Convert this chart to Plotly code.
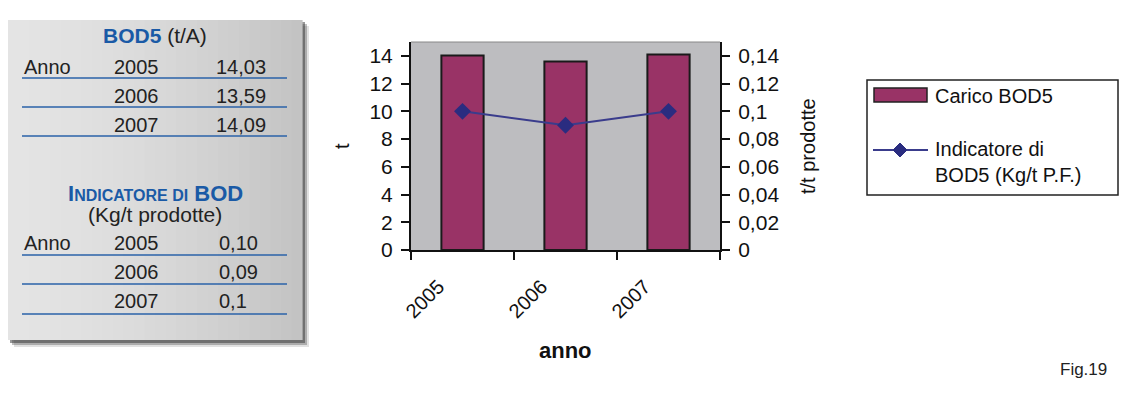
import plotly.graph_objects as go

W, H = 1126, 397

years = ["2005", "2006", "2007"]
carico_bod5 = [14.03, 13.59, 14.09]
indicatore = [0.10, 0.09, 0.10]
table_bod_labels = ["14,03", "13,59", "14,09"]
table_ind_labels = ["0,10", "0,09", "0,1"]
left_ticks = [0, 2, 4, 6, 8, 10, 12, 14]
right_ticks = [0, 0.02, 0.04, 0.06, 0.08, 0.10, 0.12, 0.14]
right_ticktext = ["0", "0,02", "0,04", "0,06", "0,08", "0,1", "0,12", "0,14"]
legend_names = ["Carico BOD5", "Indicatore di<br>BOD5 (Kg/t P.F.)"]

FONT = "Liberation Sans, Arial, sans-serif"
BLUE = "#1a5aa6"
BAR_COLOR = "#993366"
LINE_COLOR = "#3a3c8c"
MARKER_COLOR = "#2a2c80"


def px(x):
    return x / W


def py(y):
    return 1 - y / H


fig = go.Figure()
fig.add_trace(go.Bar(
    x=years, y=carico_bod5, name=legend_names[0],
    marker=dict(color=BAR_COLOR, line=dict(color="#1a1a1a", width=2)),
    width=0.41, yaxis="y", showlegend=False,
))
fig.add_trace(go.Scatter(
    x=years, y=indicatore, name=legend_names[1],
    mode="lines+markers", yaxis="y2", showlegend=False,
    line=dict(color=LINE_COLOR, width=2),
    marker=dict(symbol="diamond", size=13, color=MARKER_COLOR),
))

shapes = []
annotations = []
TXT = "#222"

# Left panel with shadow
for i, op in enumerate([0.15, 0.3, 0.5]):
    d = 6 - 2 * i
    shapes.append(dict(type="rect", xref="paper", yref="paper",
                       x0=px(8 + d), x1=px(303 + d), y0=py(341 + d), y1=py(20 + d),
                       fillcolor="#333333", opacity=op, line=dict(width=0), layer="below"))
# horizontal gradient panel (light left, darker right)
N = 28
x_left, x_right = 8, 302
for k in range(N):
    xa = x_left + (x_right - x_left) * k / N
    xb = x_left + (x_right - x_left) * (k + 1) / N
    t = (k + 0.5) / N
    v = int(round(228 - 34 * t ** 1.6))
    shapes.append(dict(type="rect", xref="paper", yref="paper",
                       x0=px(xa), x1=px(xb + 0.6), y0=py(340), y1=py(20),
                       fillcolor=f"rgb({v},{v},{v})", line=dict(width=0), layer="below"))


def ann(x, y, text, size, xanchor="center", color=TXT, angle=0):
    annotations.append(dict(x=px(x), y=py(y), xref="paper", yref="paper", text=text,
                            showarrow=False, xanchor=xanchor, yanchor="middle",
                            textangle=angle,
                            font=dict(family=FONT, size=size, color=color)))


# Table 1
ann(155, 36, f"<b><span style='color:{BLUE}'>BOD5</span></b> (t/A)", 21)
row_y1 = [67, 96, 125]
line_y1 = [78, 107, 136]
row_y2 = [243, 272, 301]
line_y2 = [255, 284, 314]
for rows, lines, labels in [(row_y1, line_y1, table_bod_labels), (row_y2, line_y2, table_ind_labels)]:
    for i, (yy, ly) in enumerate(zip(rows, lines)):
        if i == 0:
            ann(22, yy, "Anno", 20, "left")
        ann(161, yy, years[i], 20, "right")
        if labels is table_bod_labels:
            ann(268, yy, labels[i], 20, "right")
        else:
            ann(217, yy, labels[i], 20, "left")
        shapes.append(dict(type="line", xref="paper", yref="paper",
                           x0=px(22), x1=px(287), y0=py(ly), y1=py(ly),
                           line=dict(color="#2a62a8", width=1.5)))

ann(155, 193, ("<b><span style='font-size:22px'>I</span>"
               "<span style='font-size:16px'>NDICATORE DI</span> BOD</b>"), 22, color=BLUE)
ann(155, 214, "(Kg/t prodotte)", 21)

# Axis titles
ann(342, 146, "t", 20, angle=-90, color="#111")
ann(808, 146, "t/t prodotte", 20, angle=-90, color="#111")
ann(565, 350, "<b>anno</b>", 22, color="#111")
ann(1083, 369, "Fig.19", 17)

# plot border top
shapes.append(dict(type="line", xref="paper", yref="paper",
                   x0=px(411), x1=px(720), y0=py(42), y1=py(42),
                   line=dict(color="#888", width=1)))

# Custom legend
shapes.append(dict(type="rect", xref="paper", yref="paper",
                   x0=px(867), x1=px(1118), y0=py(195), y1=py(80),
                   fillcolor="white", line=dict(color="#222", width=1.5)))
shapes.append(dict(type="rect", xref="paper", yref="paper",
                   x0=px(874), x1=px(927), y0=py(102), y1=py(88),
                   fillcolor=BAR_COLOR, line=dict(color="#222", width=1.5)))
shapes.append(dict(type="line", xref="paper", yref="paper",
                   x0=px(873), x1=px(928), y0=py(150), y1=py(150),
                   line=dict(color=LINE_COLOR, width=2)))
shapes.append(dict(type="path", xref="paper", yref="paper",
                   path=(f"M {px(900)} {py(143)} L {px(907)} {py(150)} "
                         f"L {px(900)} {py(157)} L {px(893)} {py(150)} Z"),
                   fillcolor=MARKER_COLOR, line=dict(color=MARKER_COLOR, width=1)))
ann(933, 96, legend_names[0], 20, "left", color="#111")
annotations.append(dict(x=px(933), y=py(136), xref="paper", yref="paper",
                        text=legend_names[1], showarrow=False, xanchor="left", yanchor="top",
                        align="left", font=dict(family=FONT, size=20, color="#111")))

x0d, x1d = px(411), px(720)
fig.update_layout(
    width=W, height=H,
    margin=dict(l=0, r=0, t=0, b=0, autoexpand=False),
    paper_bgcolor="white",
    plot_bgcolor="#bdbdc0",
    font=dict(family=FONT, size=17, color="#111"),
    xaxis=dict(domain=[x0d, x1d], type="category", tickangle=-45, automargin=False,
               tickson="boundaries", ticks="outside", ticklen=8, tickwidth=2, tickcolor="#111",
               showline=True, linecolor="#111", linewidth=2, showgrid=False,
               ticklabelshift=-24, ticklabelstandoff=15,
               tickfont=dict(family=FONT, size=20, color="#111")),
    yaxis=dict(domain=[py(250), py(42)], range=[0, 15], tickvals=left_ticks, automargin=False,
               ticks="outside", ticklen=8, tickwidth=2, tickcolor="#111",
               showline=True, linecolor="#111", linewidth=2, showgrid=False,
               zeroline=False, ticklabelstandoff=4,
               tickfont=dict(family=FONT, size=21, color="#111")),
    yaxis2=dict(overlaying="y", side="right", range=[0, 0.15], tickvals=right_ticks,
                ticktext=right_ticktext, automargin=False,
                ticks="outside", ticklen=8, tickwidth=2, tickcolor="#111",
                showline=True, linecolor="#111", linewidth=2, showgrid=False,
                zeroline=False, ticklabelstandoff=4, anchor="x",
                tickfont=dict(family=FONT, size=21, color="#111")),
    shapes=shapes,
    annotations=annotations,
    showlegend=False,
)

fig.write_html("out.html")
